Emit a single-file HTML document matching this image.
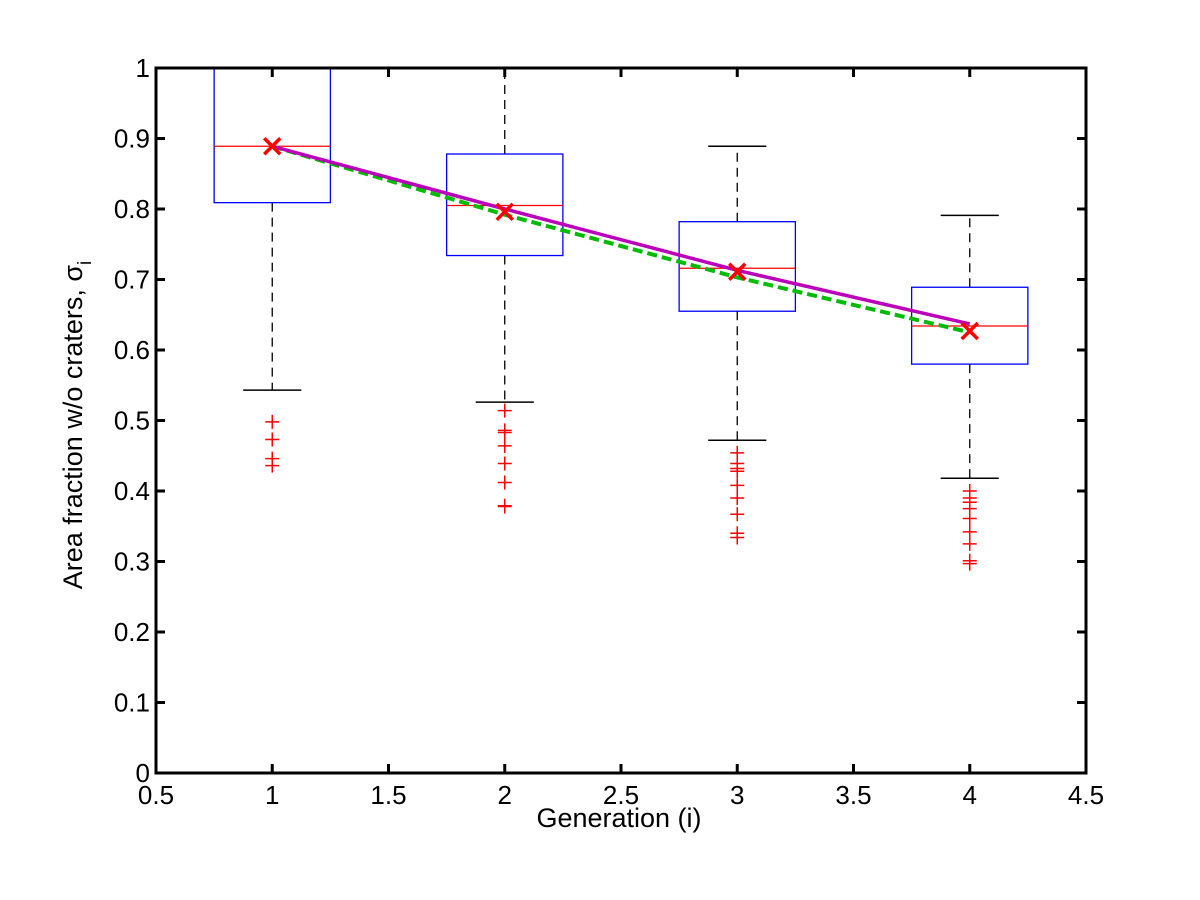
<!DOCTYPE html>
<html><head><meta charset="utf-8"><style>
html,body{margin:0;padding:0;background:#fff;}
svg{display:block;}
text{font-family:"Liberation Sans",Arial,sans-serif;fill:#000;}
</style></head><body>
<svg id="chart" width="1200" height="900" viewBox="0 0 1200 900">
<g id="plot"></g>
<g id="frame"></g>
<text x="619" y="827" font-size="27" text-anchor="middle">Generation (i)</text>
<text transform="translate(82,425) rotate(-90)" font-size="27" text-anchor="middle">Area fraction w/o craters, σ<tspan font-size="19" dy="9">i</tspan></text>
</svg>
<script>
const generations=[1,2,3,4];
const q1=[0.809,0.734,0.655,0.580];
const medians=[0.889,0.805,0.716,0.634];
const q3=[1.0,0.878,0.782,0.689];
const whiskerLow=[0.543,0.526,0.472,0.418];
const whiskerHigh=[1.0,1.0,0.889,0.791];
const outliers1=[0.498,0.473,0.446,0.436];
const outliers2=[0.514,0.486,0.483,0.464,0.439,0.412,0.379,0.378];
const outliers3=[0.454,0.439,0.432,0.428,0.408,0.390,0.367,0.340,0.334];
const outliers4=[0.400,0.390,0.384,0.375,0.361,0.342,0.325,0.301,0.297];
const means=[0.889,0.796,0.711,0.627];
const fitMagenta=[0.889,0.800,0.713,0.637];
const fitGreen=[0.889,0.792,0.703,0.625];
const xTicks=[0.5,1,1.5,2,2.5,3,3.5,4,4.5];
const yTicks=[0,0.1,0.2,0.3,0.4,0.5,0.6,0.7,0.8,0.9,1];
const xTickLabels=["0.5","1","1.5","2","2.5","3","3.5","4","4.5"];
const yTickLabels=["0","0.1","0.2","0.3","0.4","0.5","0.6","0.7","0.8","0.9","1"];

const L=156,R=1086,T=68,B=773;
const X=v=>L+(v-0.5)/4*(R-L);
const Y=v=>B-v*(B-T);
const NS="http://www.w3.org/2000/svg";
const plot=document.getElementById('plot');
const frame=document.getElementById('frame');
function mk(parent,tag,attrs){const e=document.createElementNS(NS,tag);for(const k in attrs)e.setAttribute(k,attrs[k]);parent.appendChild(e);return e;}
const allOut=[outliers1,outliers2,outliers3,outliers4];
const bw=0.25, cw=0.125;
generations.forEach((g,i)=>{
  const grp=mk(plot,'g',{});
  
  
  const w1=mk(grp,'line',{x1:X(g),x2:X(g),y1:Y(q3[i]),y2:Y(whiskerHigh[i]),stroke:'#000','stroke-width':1.3,'stroke-dasharray':'9,6'});
  
  
  const w2=mk(grp,'line',{x1:X(g),x2:X(g),y1:Y(q1[i]),y2:Y(whiskerLow[i]),stroke:'#000','stroke-width':1.3,'stroke-dasharray':'9,6'});
  
  
  const c1=mk(grp,'line',{x1:X(g-cw),x2:X(g+cw),y1:Y(whiskerHigh[i]),y2:Y(whiskerHigh[i]),stroke:'#000','stroke-width':1.5});
  
  
  const c2=mk(grp,'line',{x1:X(g-cw),x2:X(g+cw),y1:Y(whiskerLow[i]),y2:Y(whiskerLow[i]),stroke:'#000','stroke-width':1.5});
  
  
  const box=mk(grp,'rect',{x:X(g-bw),y:Y(q3[i]),width:X(g+bw)-X(g-bw),height:Y(q1[i])-Y(q3[i]),fill:'none',stroke:'#0000ff','stroke-width':1.3});
  
  
  const md=mk(grp,'line',{x1:X(g-bw),x2:X(g+bw),y1:Y(medians[i]),y2:Y(medians[i]),stroke:'#ff0000','stroke-width':1.3});
  
  
  allOut[i].forEach(v=>{
    const p=mk(grp,'path',{d:`M${X(g)-7},${Y(v)}h14M${X(g)},${Y(v)-7}v14`,stroke:'#ff0000','stroke-width':1.5,fill:'none'});
    
    
  });
});
const ptsG=generations.map((g,i)=>X(g)+','+Y(fitGreen[i])).join(' ');
const gl=mk(plot,'polyline',{points:ptsG,fill:'none',stroke:'#00bb00','stroke-width':4,'stroke-dasharray':'10,5'});


const ptsM=generations.map((g,i)=>X(g)+','+Y(fitMagenta[i])).join(' ');
const ml=mk(plot,'polyline',{points:ptsM,fill:'none',stroke:'#bb00bb','stroke-width':3.5});


generations.forEach((g,i)=>{
  const m=mk(plot,'path',{d:`M${X(g)-8},${Y(means[i])-8}l16,16M${X(g)+8},${Y(means[i])-8}l-16,16`,stroke:'#ff0000','stroke-width':3.5,fill:'none'});
  
  
});
const fr=mk(frame,'rect',{x:L,y:T,width:R-L,height:B-T,fill:'none',stroke:'#000','stroke-width':3});


xTicks.forEach((v,i)=>{
  const t=mk(frame,'path',{d:`M${X(v)},${B}v-9M${X(v)},${T}v9`,stroke:'#000','stroke-width':3});
  
  
  const tx=mk(frame,'text',{x:X(v),y:B+31,'font-size':26,'text-anchor':'middle'});
  tx.textContent=xTickLabels[i];
  
  
});
yTicks.forEach((v,i)=>{
  const t=mk(frame,'path',{d:`M${L},${Y(v)}h9M${R},${Y(v)}h-9`,stroke:'#000','stroke-width':3});
  
  
  const tx=mk(frame,'text',{x:L-6,y:Y(v)+9,'font-size':26,'text-anchor':'end'});
  tx.textContent=yTickLabels[i];
  
  
});
</script>
</body></html>
